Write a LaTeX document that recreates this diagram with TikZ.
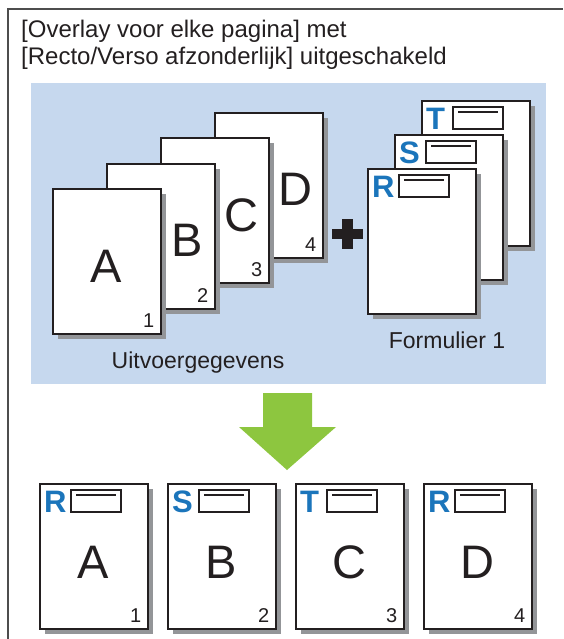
\documentclass[tikz,border=0pt]{standalone}
\usepackage{fontspec}
\setmainfont{Liberation Sans}
\definecolor{pageline}{HTML}{231F20}
\definecolor{shadowgray}{HTML}{939598}
\definecolor{bluebg}{HTML}{C6D8EE}
\definecolor{formblue}{HTML}{1B75BB}
\definecolor{arrowgreen}{HTML}{8DC63F}
\definecolor{framecol}{HTML}{4D4D4D}
\tikzset{
  sheet/.style={rectangle, draw=pageline, line width=2.4pt, fill=white, minimum width=108pt, minimum height=145pt, inner sep=0pt, anchor=north west},
  sheetshadow/.style={rectangle, fill=shadowgray, minimum width=108pt, minimum height=145pt, inner sep=0pt, anchor=north west},
  bigletter/.style={inner sep=0pt, font=\fontsize{47}{50}\selectfont, text=pageline},
  pagenum/.style={inner sep=0pt, anchor=south east, font=\fontsize{20}{22}\selectfont, text=pageline},
  formletter/.style={inner sep=0pt, anchor=north west, font=\fontsize{31}{33}\selectfont\bfseries, text=formblue},
  formbox/.style={rectangle, draw=pageline, line width=2.2pt, fill=white, minimum width=50pt, minimum height=22pt, inner sep=0pt, anchor=north west},
  labeltext/.style={inner sep=0pt, font=\fontsize{23}{27}\selectfont, text=pageline},
  titletext/.style={inner sep=0pt, anchor=base west, font=\fontsize{24}{27}\selectfont, text=pageline},
}
% sheet with shadow: name, x, y
\newcommand\mysheet[3]{%
  \node[sheetshadow] (#1s) at (#2+6,#3+6) {};
  \node[sheet] (#1) at (#2,#3) {};
}
% form header: prefix, page node, letter
\newcommand\formhead[3]{%
  \node[formletter] (#1l) at ([xshift=5pt,yshift=-8pt]#2.north west) {#3};
  \node[formbox] (#1b) at ([xshift=31pt,yshift=-6pt]#2.north west) {};
  \coordinate (#1a) at ([xshift=6pt,yshift=-6pt]#1b.north west);
  \coordinate (#1c) at ([xshift=-6pt,yshift=-6pt]#1b.north east);
  \draw[pageline, line width=2pt] (#1a) -- (#1c);
}
\begin{document}
\begin{tikzpicture}[x=1pt,y=-1pt]
\useasboundingbox (0,0) rectangle (563,639);
% frame
\coordinate (fbl) at (8,639);
\coordinate (ftl) at (8,9);
\coordinate (ftr) at (563,9);
\draw[framecol, line width=1.5pt] (fbl) -- (ftl) -- (ftr);
% title
\node[titletext] (t1) at (21,38) {[Overlay voor elke pagina] met};
\node[titletext] (t2) at (21,65) {[Recto/Verso afzonderlijk] uitgeschakeld};
% panel
\node[rectangle, fill=bluebg, minimum width=515pt, minimum height=301pt, inner sep=0pt, anchor=north west] (panel) at (31,83) {};
% output data stack
\mysheet{pD}{214}{112}
\node[bigletter] (lD) at (295,189) {D};
\node[pagenum] (nD) at ([xshift=-8pt,yshift=8pt]pD.south east) {4};
\mysheet{pC}{160}{137}
\node[bigletter] (lC) at (241,215) {C};
\node[pagenum] (nC) at ([xshift=-8pt,yshift=8pt]pC.south east) {3};
\mysheet{pB}{106}{163}
\node[bigletter] (lB) at (187,240) {B};
\node[pagenum] (nB) at ([xshift=-8pt,yshift=8pt]pB.south east) {2};
\mysheet{pA}{52}{188}
\node[bigletter] (lA) at (106,266) {A};
\node[pagenum] (nA) at ([xshift=-8pt,yshift=8pt]pA.south east) {1};
\node[labeltext, anchor=base] (uit) at (198,368) {Uitvoergegevens};
% plus
\fill[pageline] (332,229) rectangle (363,239);
\fill[pageline] (342,219) rectangle (353,249);
% form stack
\mysheet{fT}{421}{100}
\formhead{hT}{fT}{T}
\mysheet{fS}{394}{134}
\formhead{hS}{fS}{S}
\mysheet{fR}{367}{168}
\formhead{hR}{fR}{R}
\node[labeltext, anchor=base] (form) at (447,348) {Formulier 1};
% green arrow
\fill[arrowgreen] (263,393) -- (312,393) -- (312,427) -- (336,427) -- (287,470) -- (239,427) -- (263,427) -- cycle;
% results
\mysheet{r1}{39}{483}
\formhead{h1}{r1}{R}
\node[bigletter] (l1) at (93,562) {A};
\node[pagenum] (n1) at ([xshift=-8pt,yshift=8pt]r1.south east) {1};
\mysheet{r2}{167}{483}
\formhead{h2}{r2}{S}
\node[bigletter] (l2) at (221,562) {B};
\node[pagenum] (n2) at ([xshift=-8pt,yshift=8pt]r2.south east) {2};
\mysheet{r3}{295}{483}
\formhead{h3}{r3}{T}
\node[bigletter] (l3) at (349,562) {C};
\node[pagenum] (n3) at ([xshift=-8pt,yshift=8pt]r3.south east) {3};
\mysheet{r4}{423}{483}
\formhead{h4}{r4}{R}
\node[bigletter] (l4) at (477,562) {D};
\node[pagenum] (n4) at ([xshift=-8pt,yshift=8pt]r4.south east) {4};
\end{tikzpicture}
\end{document}
